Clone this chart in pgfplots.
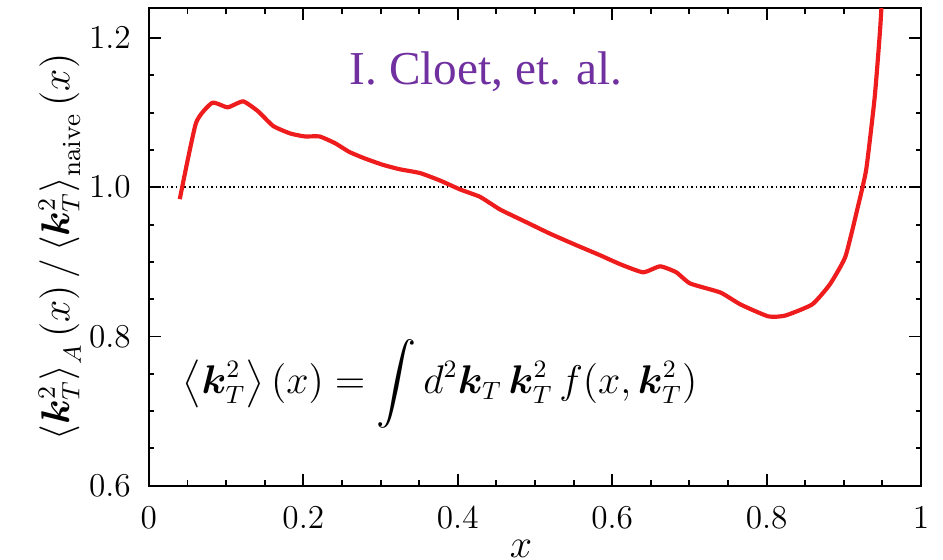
\documentclass[border=0pt]{standalone}
\usepackage{pgfplots}
\pgfplotsset{compat=1.18}
\usepackage{bm}
\usepackage{amsmath}
\usepackage{fontspec}
\newfontfamily\serifT{Liberation Serif}
\usetikzlibrary{calc}
\definecolor{curvered}{HTML}{EE1C1C}
\definecolor{cloetpurple}{HTML}{7030A0}
\begin{document}
\begin{tikzpicture}
\begin{axis}[
  name=ax,
  scale only axis,
  width=278pt, height=172pt,
  xmin=0, xmax=1, ymin=0.6, ymax=1.24,
  xtick={0,0.2,0.4,0.6,0.8,1},
  ytick={0.6,0.8,1.0,1.2},
  minor x tick num=3,
  minor y tick num=3,
  tick align=inside,
  major tick length=4.3pt,
  minor tick length=2pt,
  axis line style={line width=0.7pt},
  every tick/.style={line width=0.7pt, black},
  tick label style={font=\fontsize{11.5}{13}\selectfont},
  xticklabel style={yshift=-4pt, /pgf/number format/fixed},
  yticklabel style={xshift=-3pt, /pgf/number format/fixed, /pgf/number format/fixed zerofill, /pgf/number format/precision=1},
  xlabel={\fontsize{14}{16}\selectfont $x$},
  xlabel style={yshift=2.5pt, xshift=-5pt},
  ylabel={\fontsize{13.5}{16}\selectfont $\left\langle \bm{k}_T^2\right\rangle_A(x)\,/\left\langle \bm{k}_T^2\right\rangle_{\mathrm{naive}}(x)$},
  ylabel style={yshift=-4pt},
  clip=true,
]
\addplot[black, densely dotted, line width=0.6pt, forget plot] coordinates {(0,1.0) (1,1.0)};
\addplot[curvered, line width=1.5pt, smooth, tension=0.3] coordinates {
(0.040,0.984) (0.061,1.086) (0.082,1.113) (0.102,1.107) (0.122,1.115)
(0.141,1.102) (0.161,1.082) (0.183,1.072) (0.202,1.068) (0.221,1.068)
(0.241,1.059) (0.260,1.047) (0.281,1.038) (0.303,1.030) (0.325,1.024)
(0.351,1.019) (0.377,1.009) (0.403,0.997) (0.429,0.987) (0.455,0.970)
(0.487,0.954) (0.519,0.938) (0.552,0.923) (0.584,0.909) (0.610,0.897)
(0.640,0.886) (0.662,0.894) (0.683,0.886) (0.701,0.871) (0.740,0.859)
(0.766,0.843) (0.802,0.827) (0.824,0.828) (0.859,0.843) (0.882,0.870)
(0.902,0.907) (0.918,0.973) (0.929,1.024) (0.940,1.121) (0.947,1.212)
(0.952,1.300)
};
\node[cloetpurple, font=\serifT\fontsize{17}{20}\selectfont] at (axis cs:0.437,1.155) {I. Cloet, et. al.};
\node[font=\fontsize{13.5}{16}\selectfont] at (axis cs:0.377,0.737) {$\displaystyle \left\langle \bm{k}_T^2\right\rangle(x) = \int d^2\bm{k}_T\,\bm{k}_T^2\,f(x,\bm{k}_T^2)$};
\end{axis}
\pgfresetboundingbox
\path ($(ax.south west)+(-53.6pt,-26.6pt)$) rectangle ($(ax.north east)+(7.9pt,2.9pt)$);
\end{tikzpicture}
\end{document}
